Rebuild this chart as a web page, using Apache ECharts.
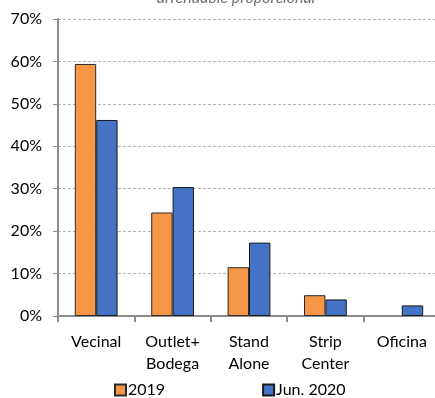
<!DOCTYPE html>
<html>
<head>
<meta charset="utf-8">
<script src="https://cdn.jsdelivr.net/npm/echarts@6/dist/echarts.min.js"></script>
<style>
  html, body { margin: 0; padding: 0; background: #fff; overflow: hidden; }
  /* the plot area runs slightly past the right edge of the window */
  #chart { width: 445px; height: 398px; }
</style>
</head>
<body>
<div id="chart"></div>
<script>
// Share of leasable area by format
const categories = ['Vecinal', 'Outlet+\nBodega', 'Stand\nAlone', 'Strip\nCenter', 'Oficina'];
const values2019 = [59.4, 24.4, 11.5, 4.9, 0];
const valuesJun2020 = [46.2, 30.4, 17.3, 3.9, 2.5];
const yTicks = { min: 0, max: 70, interval: 10 };

const FONT = 'Lato';

// zero-height bars get no outline
const toItems = arr => arr.map(v => (v === 0 ? { value: v, itemStyle: { borderWidth: 0 } } : v));

const chart = echarts.init(document.getElementById('chart'), null, { renderer: 'canvas' });

chart.setOption({
  animation: false,
  backgroundColor: '#ffffff',
  textStyle: { fontFamily: FONT },
  title: {
    text: 'arrendable proporcional',
    left: 231,
    textAlign: 'center',
    top: -15,
    textStyle: { fontFamily: FONT, fontSize: 16, fontStyle: 'italic', fontWeight: 'normal', color: '#6f6f6f' }
  },
  grid: { left: 58, top: 19, right: 5, bottom: 82, containLabel: false },
  legend: {
    bottom: -5,
    left: 109,
    itemGap: 97,
    itemWidth: 11,
    itemHeight: 11,
    icon: 'rect',
    textStyle: { fontFamily: FONT, fontSize: 16, color: '#000', padding: [0, 0, 0, -3] },
    data: ['2019', 'Jun. 2020']
  },
  xAxis: {
    type: 'category',
    data: categories,
    axisLine: { lineStyle: { color: '#8c8c8c', width: 2 } },
    axisTick: { show: true, length: 6, lineStyle: { color: '#8c8c8c', width: 2 } },
    axisLabel: { fontFamily: FONT, fontSize: 16, color: '#000', margin: 15, lineHeight: 22 }
  },
  yAxis: {
    type: 'value',
    min: yTicks.min,
    max: yTicks.max,
    interval: yTicks.interval,
    axisLine: { show: true, lineStyle: { color: '#8c8c8c', width: 2 } },
    axisTick: { show: true, length: 5, lineStyle: { color: '#8c8c8c', width: 1 } },
    axisLabel: { fontFamily: FONT, fontSize: 16, color: '#000', margin: 16, formatter: '{value}%' },
    splitLine: { show: true, lineStyle: { color: '#b4b4b4', type: [3, 2], width: 1 } }
  },
  series: [
    {
      name: '2019',
      type: 'bar',
      data: toItems(values2019),
      barGap: '0%',
      barCategoryGap: '44%',
      itemStyle: { color: '#f79646', borderColor: '#2b2b2b', borderWidth: 1 }
    },
    {
      name: 'Jun. 2020',
      type: 'bar',
      data: toItems(valuesJun2020),
      barGap: '0%',
      barCategoryGap: '44%',
      itemStyle: { color: '#4472c4', borderColor: '#1a1a1a', borderWidth: 1 }
    }
  ]
});
</script>
</body>
</html>
